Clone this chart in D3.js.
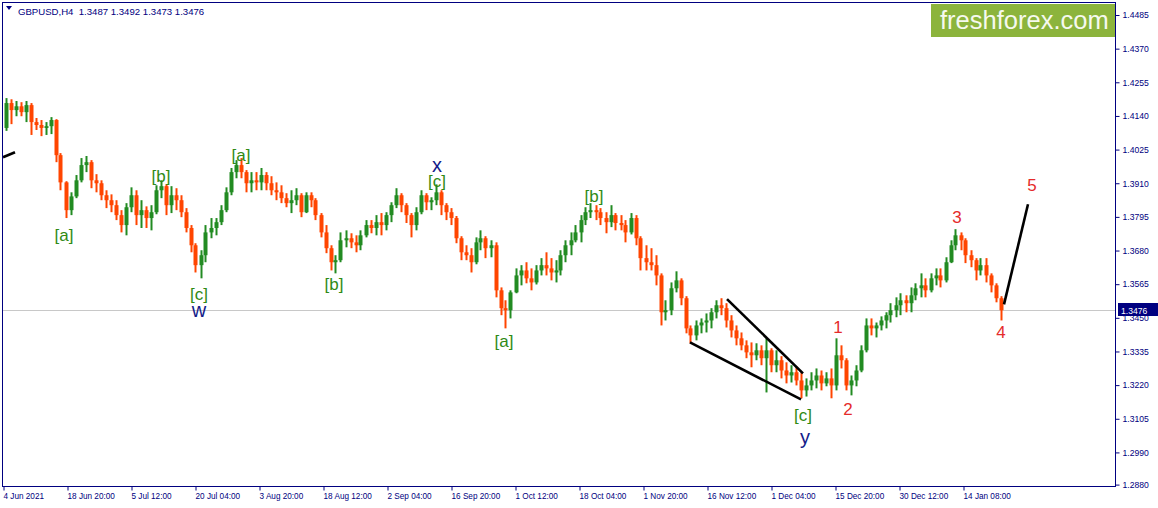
<!DOCTYPE html>
<html><head><meta charset="utf-8">
<script src="https://cdn.jsdelivr.net/npm/d3@7"></script>
<style>body{margin:0;background:#fff;} svg{display:block;} text{white-space:pre;}</style>
</head><body>
<svg id="c" width="1158" height="508"></svg>
<script>
// ---------------- DATA ----------------
const symbol = "GBPUSD,H4";
const lastBarOHLC = [1.3487, 1.3492, 1.3473, 1.3476];
const priceTicks = [1.4485,1.4370,1.4255,1.4140,1.4025,1.3910,1.3795,1.3680,1.3565,1.3450,1.3335,1.3220,1.3105,1.2990,1.2880];
const timeTickBars = [0,64,128,192,256,320,384,448,512,576,640,704,768,832,896,960];
const timeTickLabels = ["4 Jun 2021","18 Jun 20:00","5 Jul 12:00","20 Jul 04:00","3 Aug 20:00","18 Aug 12:00","2 Sep 04:00","16 Sep 20:00","1 Oct 12:00","18 Oct 04:00","1 Nov 20:00","16 Nov 12:00","1 Dec 04:00","15 Dec 20:00","30 Dec 12:00","14 Jan 08:00"];
const barsPerEntry = 5; // each entry groups five H4 bars
const open = [
1.4099,1.4184,1.4160,1.4173,1.4153,1.4177,1.4119,1.4109,1.4099,1.4105,
1.4126,1.4006,1.3913,1.3818,1.3865,1.3920,1.3972,1.3982,1.3920,1.3910,
1.3869,1.3852,1.3835,1.3801,1.3767,1.3828,1.3869,1.3801,1.3818,1.3791,
1.3811,1.3886,1.3900,1.3835,1.3869,1.3852,1.3811,1.3757,1.3698,1.3630,
1.3664,1.3742,1.3757,1.3777,1.3818,1.3879,1.3948,1.3972,1.3948,1.3910,
1.3920,1.3913,1.3938,1.3910,1.3886,1.3879,1.3859,1.3842,1.3852,1.3869,
1.3811,1.3869,1.3852,1.3801,1.3742,1.3688,1.3640,1.3647,1.3715,1.3722,
1.3708,1.3698,1.3732,1.3767,1.3757,1.3777,1.3767,1.3801,1.3835,1.3869,
1.3835,1.3801,1.3767,1.3811,1.3869,1.3845,1.3852,1.3879,1.3835,1.3811,
1.3791,1.3722,1.3674,1.3664,1.3640,1.3708,1.3722,1.3688,1.3698,1.3544,
1.3483,1.3476,1.3537,1.3595,1.3612,1.3585,1.3571,1.3612,1.3630,1.3619,
1.3605,1.3612,1.3664,1.3698,1.3715,1.3742,1.3784,1.3811,1.3818,1.3811,
1.3791,1.3777,1.3801,1.3774,1.3767,1.3742,1.3791,1.3722,1.3654,1.3640,
1.3630,1.3595,1.3469,1.3476,1.3551,1.3578,1.3517,1.3414,1.3390,1.3424,
1.3434,1.3441,1.3469,1.3493,1.3483,1.3441,1.3407,1.3380,1.3356,1.3332,
1.3322,1.3339,1.3312,1.3339,1.3288,1.3305,1.3270,1.3253,1.3264,1.3236,
1.3202,1.3219,1.3236,1.3253,1.3226,1.3243,1.3219,1.3322,1.3305,1.3219,
1.3236,1.3270,1.3339,1.3424,1.3414,1.3424,1.3441,1.3459,1.3476,1.3493,
1.3510,1.3500,1.3527,1.3551,1.3561,1.3544,1.3585,1.3595,1.3578,1.3640,
1.3698,1.3732,1.3715,1.3664,1.3647,1.3612,1.3630,1.3595,1.3561,1.3517];
const high = [
1.4201,1.4197,1.4191,1.4187,1.4191,1.4184,1.4133,1.4126,1.4119,1.4136,
1.4129,1.4013,1.3917,1.3879,1.3938,1.3996,1.4003,1.3989,1.3941,1.3920,
1.3886,1.3872,1.3852,1.3818,1.3842,1.3896,1.3886,1.3852,1.3831,1.3835,
1.3903,1.3920,1.3906,1.3900,1.3893,1.3869,1.3825,1.3767,1.3705,1.3681,
1.3767,1.3791,1.3791,1.3835,1.3896,1.3962,1.3989,1.3996,1.3955,1.3948,
1.3948,1.3962,1.3948,1.3934,1.3913,1.3903,1.3876,1.3886,1.3893,1.3876,
1.3879,1.3879,1.3859,1.3808,1.3767,1.3698,1.3664,1.3742,1.3749,1.3739,
1.3732,1.3749,1.3784,1.3784,1.3801,1.3808,1.3811,1.3845,1.3893,1.3876,
1.3842,1.3808,1.3828,1.3886,1.3876,1.3862,1.3906,1.3886,1.3842,1.3825,
1.3798,1.3729,1.3698,1.3688,1.3725,1.3749,1.3729,1.3715,1.3708,1.3554,
1.3510,1.3544,1.3619,1.3630,1.3640,1.3619,1.3630,1.3654,1.3674,1.3654,
1.3647,1.3681,1.3715,1.3742,1.3767,1.3801,1.3828,1.3842,1.3835,1.3825,
1.3811,1.3835,1.3808,1.3801,1.3784,1.3808,1.3801,1.3729,1.3698,1.3688,
1.3664,1.3602,1.3510,1.3571,1.3609,1.3585,1.3524,1.3424,1.3441,1.3448,
1.3465,1.3483,1.3510,1.3517,1.3500,1.3459,1.3424,1.3400,1.3373,1.3366,
1.3363,1.3356,1.3380,1.3346,1.3339,1.3319,1.3298,1.3288,1.3284,1.3264,
1.3243,1.3264,1.3277,1.3270,1.3264,1.3277,1.3380,1.3356,1.3312,1.3253,
1.3288,1.3356,1.3448,1.3448,1.3434,1.3455,1.3469,1.3500,1.3520,1.3534,
1.3527,1.3554,1.3568,1.3602,1.3585,1.3602,1.3619,1.3619,1.3657,1.3715,
1.3753,1.3742,1.3722,1.3681,1.3654,1.3654,1.3654,1.3602,1.3568,1.3524];
const low = [
1.4089,1.4112,1.4139,1.4139,1.4119,1.4075,1.4092,1.4071,1.4075,1.4078,
1.3982,1.3886,1.3791,1.3801,1.3859,1.3913,1.3948,1.3893,1.3879,1.3852,
1.3825,1.3811,1.3784,1.3742,1.3732,1.3811,1.3767,1.3757,1.3757,1.3749,
1.3804,1.3859,1.3801,1.3808,1.3818,1.3794,1.3742,1.3674,1.3605,1.3585,
1.3640,1.3722,1.3732,1.3767,1.3811,1.3869,1.3927,1.3927,1.3879,1.3879,
1.3886,1.3886,1.3886,1.3869,1.3852,1.3842,1.3828,1.3808,1.3835,1.3794,
1.3808,1.3828,1.3784,1.3725,1.3671,1.3612,1.3602,1.3640,1.3691,1.3688,
1.3674,1.3681,1.3725,1.3739,1.3732,1.3732,1.3749,1.3777,1.3825,1.3811,
1.3774,1.3725,1.3749,1.3804,1.3818,1.3818,1.3835,1.3801,1.3784,1.3767,
1.3705,1.3647,1.3647,1.3605,1.3633,1.3681,1.3654,1.3657,1.3520,1.3459,
1.3414,1.3448,1.3534,1.3561,1.3568,1.3544,1.3564,1.3595,1.3595,1.3578,
1.3571,1.3595,1.3640,1.3664,1.3708,1.3708,1.3767,1.3791,1.3784,1.3767,
1.3739,1.3760,1.3749,1.3749,1.3708,1.3735,1.3698,1.3612,1.3612,1.3612,
1.3561,1.3424,1.3441,1.3459,1.3537,1.3493,1.3397,1.3363,1.3373,1.3397,
1.3400,1.3414,1.3448,1.3459,1.3417,1.3383,1.3356,1.3339,1.3312,1.3281,
1.3305,1.3288,1.3195,1.3264,1.3264,1.3243,1.3226,1.3229,1.3219,1.3175,
1.3181,1.3202,1.3209,1.3202,1.3216,1.3175,1.3202,1.3277,1.3202,1.3185,
1.3216,1.3264,1.3332,1.3390,1.3383,1.3407,1.3414,1.3434,1.3452,1.3459,
1.3469,1.3469,1.3510,1.3520,1.3520,1.3537,1.3561,1.3554,1.3571,1.3637,
1.3681,1.3681,1.3637,1.3623,1.3578,1.3595,1.3571,1.3537,1.3503,1.3441];
const close = [
1.4184,1.4160,1.4173,1.4153,1.4177,1.4119,1.4109,1.4099,1.4105,1.4126,
1.4006,1.3913,1.3818,1.3865,1.3920,1.3972,1.3982,1.3920,1.3910,1.3869,
1.3852,1.3835,1.3801,1.3767,1.3828,1.3869,1.3801,1.3818,1.3791,1.3811,
1.3886,1.3900,1.3835,1.3869,1.3852,1.3811,1.3757,1.3698,1.3630,1.3664,
1.3742,1.3757,1.3777,1.3818,1.3879,1.3948,1.3972,1.3948,1.3910,1.3920,
1.3913,1.3938,1.3910,1.3886,1.3879,1.3859,1.3842,1.3852,1.3869,1.3811,
1.3869,1.3852,1.3801,1.3742,1.3688,1.3640,1.3647,1.3715,1.3722,1.3708,
1.3698,1.3732,1.3767,1.3757,1.3777,1.3767,1.3801,1.3835,1.3869,1.3835,
1.3801,1.3767,1.3811,1.3869,1.3845,1.3852,1.3879,1.3835,1.3811,1.3791,
1.3722,1.3674,1.3664,1.3640,1.3708,1.3722,1.3688,1.3698,1.3544,1.3483,
1.3476,1.3537,1.3595,1.3612,1.3585,1.3571,1.3612,1.3630,1.3619,1.3605,
1.3612,1.3664,1.3698,1.3715,1.3742,1.3784,1.3811,1.3818,1.3811,1.3791,
1.3777,1.3801,1.3774,1.3767,1.3742,1.3791,1.3722,1.3654,1.3640,1.3630,
1.3595,1.3469,1.3476,1.3551,1.3578,1.3517,1.3414,1.3390,1.3424,1.3434,
1.3441,1.3469,1.3493,1.3483,1.3441,1.3407,1.3380,1.3356,1.3332,1.3322,
1.3339,1.3312,1.3339,1.3288,1.3305,1.3270,1.3253,1.3264,1.3236,1.3202,
1.3219,1.3236,1.3253,1.3226,1.3243,1.3219,1.3322,1.3305,1.3219,1.3236,
1.3270,1.3339,1.3424,1.3414,1.3424,1.3441,1.3459,1.3476,1.3493,1.3510,
1.3500,1.3527,1.3551,1.3561,1.3544,1.3585,1.3595,1.3578,1.3640,1.3698,
1.3732,1.3715,1.3664,1.3647,1.3612,1.3630,1.3595,1.3561,1.3517,1.3476];

// Elliott wave annotations (bar index, price, degree)
const waveText   = ["[a]","[b]","[c]","w","[a]","[b]","x","[c]","[a]","[b]","[c]","y","1","2","3","4","5"];
const waveBar    = [60.5,157.5,195.5,195.5,237.5,330.5,433.5,433.5,500.5,590.5,799.5,801.5,834.5,844.5,953.5,997.5,1028.5];
const wavePrice  = [1.3732,1.3934,1.3530,1.3477,1.4006,1.3564,1.3972,1.3917,1.3370,1.3865,1.3117,1.3042,1.3417,1.3138,1.3794,1.3400,1.3903];
const waveDegree = ["minor","minor","minor","inter","minor","minor","inter","minor","minor","minor","minor","inter","minute","minute","minute","minute","minute"];
// trend lines: [bar1, price1, bar2, price2]
const trendBars   = [[-0.5, 11.5], [723.5, 799.5], [686.5, 797.5], [1000.5, 1024.5]];
const trendPrices = [[1.3999, 1.4016], [1.3514, 1.3260], [1.3366, 1.3171], [1.3496, 1.3838]];

// ---------------- DRAW ----------------
const W = 1158, H = 508;
const L = 2, R = 1115, T = 2, B = 486;
const navy = "#000080";
const x = d3.scaleLinear().domain([0, 1111.5]).range([3.5, R]);
const y = d3.scaleLinear().domain([1.2880, 1.4485]).range([484.6, 15]);
const svg = d3.select("#c");
svg.append("rect").attr("width", W).attr("height", H).attr("fill", "#fff");
svg.append("defs").append("clipPath").attr("id", "plot")
  .append("rect").attr("x", L).attr("y", T).attr("width", R - L).attr("height", B - T);
const g = svg.append("g").attr("clip-path", "url(#plot)");

// current price line
const last = lastBarOHLC[3];
g.append("line").attr("x1", L).attr("x2", R)
  .attr("y1", Math.round(y(last)) + 0.5).attr("y2", Math.round(y(last)) + 0.5)
  .attr("stroke", "#c8c8c8").attr("stroke-width", 1);

// candles
const candles = d3.range(open.length).map(i => ({bar: i * barsPerEntry + 2, o: open[i], h: high[i], l: low[i], c: close[i]}));
const col = d => d.c > d.o ? "#228b22" : (d.c < d.o ? "#ff4500" : "#000");
g.append("g").selectAll("line").data(candles).join("line")
  .attr("x1", d => Math.round(x(d.bar)) + 0.5).attr("x2", d => Math.round(x(d.bar)) + 0.5)
  .attr("y1", d => y(d.h)).attr("y2", d => y(d.l))
  .attr("stroke", col).attr("stroke-width", 2);
g.append("g").selectAll("rect").data(candles).join("rect")
  .attr("x", d => Math.round(x(d.bar)) - 1.5).attr("width", 4)
  .attr("y", d => y(Math.max(d.o, d.c)))
  .attr("height", d => Math.max(1, Math.abs(y(d.o) - y(d.c))))
  .attr("fill", col);

// trend lines
g.append("g").selectAll("line").data(trendBars).join("line")
  .attr("x1", (d) => x(d[0])).attr("x2", d => x(d[1]))
  .attr("y1", (d, i) => y(trendPrices[i][0])).attr("y2", (d, i) => y(trendPrices[i][1]))
  .attr("stroke", "#000").attr("stroke-width", 2.6).attr("stroke-linecap", "butt");

// wave labels
const degColor = {minor: "#2f8a14", inter: "#141c8a", minute: "#e52b2b"};
const degSize = {minor: 17, inter: 20, minute: 17};
svg.append("g").selectAll("text").data(waveText).join("text")
  .attr("x", (d, i) => x(waveBar[i])).attr("y", (d, i) => y(wavePrice[i]))
  .attr("text-anchor", "middle").attr("dominant-baseline", "central")
  .attr("font-family", "Liberation Sans, Arial, sans-serif")
  .attr("font-size", (d, i) => degSize[waveDegree[i]])
  .attr("fill", (d, i) => degColor[waveDegree[i]])
  .text(d => d);

// frame
svg.append("rect").attr("x", L + 0.5).attr("y", T + 0.5).attr("width", R - L).attr("height", B - T)
  .attr("fill", "none").attr("stroke", navy).attr("stroke-width", 1);

// right price axis
const ya = d3.axisRight(y).tickValues(priceTicks).tickFormat(d3.format(".4f")).tickSize(4).tickPadding(3);
const yg = svg.append("g").attr("transform", `translate(${R + 0.5},0)`).call(ya);
yg.select(".domain").remove();
yg.selectAll("line").attr("stroke", navy);
yg.selectAll("text").attr("font-family", "Liberation Sans, Arial, sans-serif").attr("font-size", 8.6).attr("fill", navy);

// bottom time axis
const xa = d3.axisBottom(x).tickValues(timeTickBars).tickFormat((d, i) => timeTickLabels[i]).tickSize(4).tickPadding(3);
const xg = svg.append("g").attr("transform", `translate(0,${B + 0.5})`).call(xa);
xg.select(".domain").remove();
xg.selectAll("line").attr("stroke", navy);
xg.selectAll("text").attr("text-anchor", "start").attr("x", -0.5)
  .attr("font-family", "Liberation Sans, Arial, sans-serif").attr("font-size", 8.2).attr("fill", navy);

// current price label
const ly = Math.round(y(last));
svg.append("rect").attr("x", R + 3).attr("y", ly - 7).attr("width", W - R - 3).attr("height", 13).attr("fill", navy);
svg.append("text").attr("x", R + 6).attr("y", ly + 3.5).attr("font-family", "Liberation Sans, Arial, sans-serif")
  .attr("font-size", 8.6).attr("fill", "#fff").text(d3.format(".4f")(last));

// header
svg.append("path").attr("d", "M6,6 L12,6 L9,10 Z").attr("fill", navy);
svg.append("text").attr("x", 18).attr("y", 14.5).attr("font-family", "Liberation Sans, Arial, sans-serif")
  .attr("font-size", 9.6).attr("fill", navy)
  .text(symbol + "  " + lastBarOHLC.map(d3.format(".4f")).join(" "));

// logo
svg.append("rect").attr("x", 931).attr("y", 4).attr("width", R - 931).attr("height", 33).attr("fill", "#8cb43c");
svg.append("text").attr("x", 940).attr("y", 29).attr("font-family", "Liberation Sans, Arial, sans-serif")
  .attr("font-size", 25.5).attr("fill", "#f6f9ee").text("freshforex.com");
</script>
</body></html>
